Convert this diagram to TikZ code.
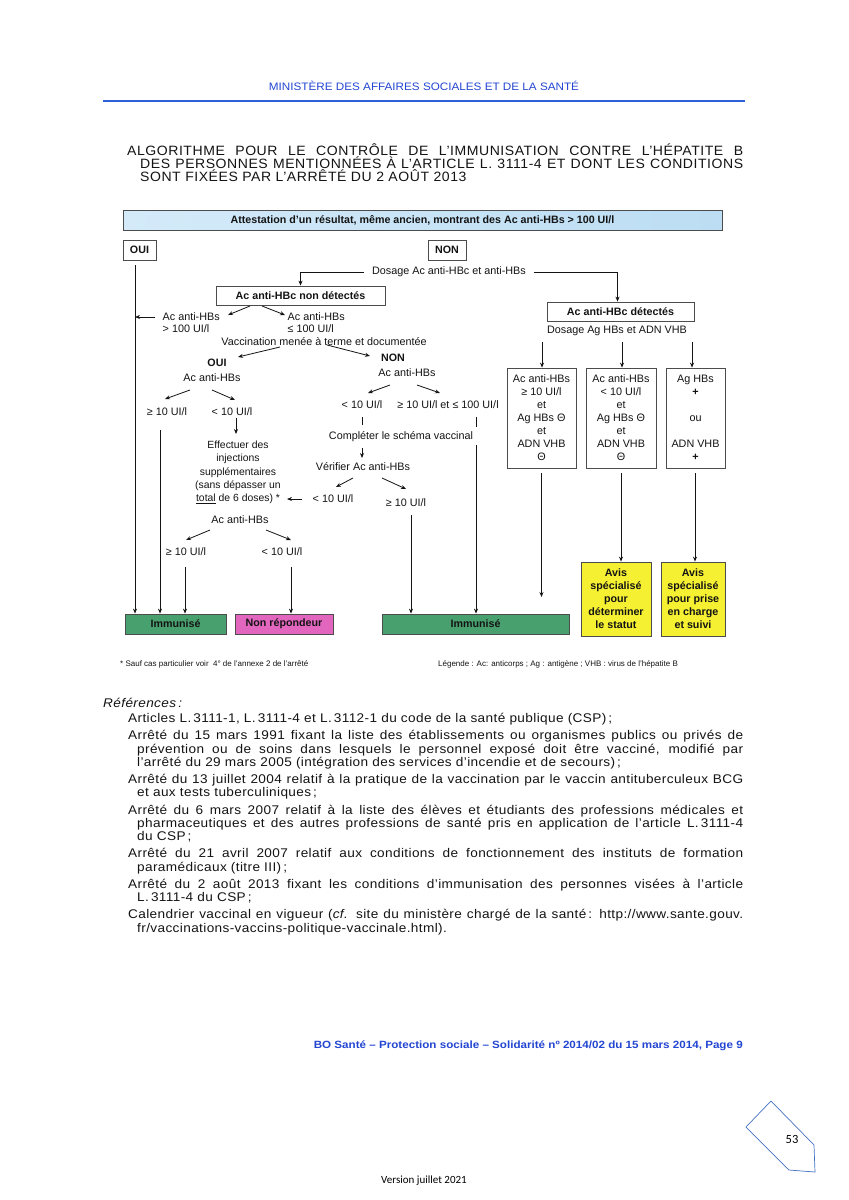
\documentclass[tikz,border=0pt]{standalone}
\usepackage{fontspec}
\usepackage{graphicx}
\setmainfont{Liberation Sans}
\newfontfamily\dfont{Liberation Sans}
\newfontfamily\reffont[FakeStretch=1.08,LetterSpace=3]{Liberation Sans}
\newfontfamily\titlefont[FakeStretch=1.04,LetterSpace=4]{Liberation Sans}
\newfontfamily\calfont{Carlito}
\usetikzlibrary{arrows.meta}
\definecolor{hblue}{RGB}{35,70,210}
\definecolor{lblue}{RGB}{45,95,215}
\definecolor{grn}{RGB}{72,160,110}
\definecolor{pnk}{RGB}{226,102,190}
\definecolor{yel}{RGB}{245,240,50}
\definecolor{topL}{RGB}{212,234,249}
\definecolor{topR}{RGB}{188,221,243}
\definecolor{pblue}{RGB}{68,114,196}
\definecolor{ink}{RGB}{20,20,20}
\newcommand\jl[2]{\makebox[#1][s]{#2}}
\tikzset{
 dtxt/.style={inner sep=0pt, text=ink, font=\dfont\fontsize{10.8}{13}\selectfont, align=center},
 bx/.style={draw=black!70, line width=0.8pt, fill=white, inner sep=0pt, text=ink, font=\dfont\fontsize{10.8}{13}\selectfont, align=center},
 bfont/.style={font=\dfont\bfseries\fontsize{10.7}{13}\selectfont},
 arr/.style={draw=ink, line width=0.8pt, -{Stealth[length=5pt,width=4pt]}},
 ln/.style={draw=ink, line width=0.8pt},
 rt/.style={anchor=base west, inner sep=0pt, text=ink, font=\reffont\fontsize{12.6}{13.3}\selectfont},
 ttl/.style={anchor=base west, inner sep=0pt, text=ink, font=\titlefont\fontsize{13.5}{13.5}\selectfont},
 small/.style={inner sep=0pt, text=ink, font=\dfont\fontsize{8}{9}\selectfont, anchor=west},
}
\begin{document}
\begin{tikzpicture}[x=1pt,y=-1pt]
\fill[white] (0,0) rectangle (849,1200);
\useasboundingbox (0,0) rectangle (849,1200);

% ---------- header ----------
\node[inner sep=0pt, text=hblue, font=\dfont\fontsize{10.8}{12}\selectfont] (hdr) at (424,86)
  {\resizebox{310pt}{\height}{MINISTÈRE DES AFFAIRES SOCIALES ET DE LA SANTÉ}};
\coordinate (hl1) at (103,101);
\coordinate (hl2) at (745,101);
\draw[lblue, line width=1.2pt] (hl1) -- (hl2);

% ---------- title ----------
\node[ttl] (t1) at (127,155) {\jl{616pt}{ALGORITHME POUR LE CONTRÔLE DE L’IMMUNISATION CONTRE L’HÉPATITE B}};
\node[ttl] (t2) at (140,168) {\jl{603pt}{DES PERSONNES MENTIONNÉES À L’ARTICLE L. 3111-4 ET DONT LES CONDITIONS}};
\node[ttl] (t3) at (140,181) {SONT FIXÉES PAR L’ARRÊTÉ DU 2 AOÛT 2013};

% ---------- diagram boxes ----------
\node[bx, bfont, minimum width=599pt, minimum height=20pt, left color=topL, right color=topR] (top) at (422.5,220)
  {Attestation d’un résultat, même ancien, montrant des Ac anti-HBs > 100 UI/l};
\node[bx, bfont, minimum width=33pt, minimum height=20pt] (oui) at (139.5,250) {OUI};
\node[bx, bfont, minimum width=38pt, minimum height=20pt] (non) at (447,250) {NON};
\node[dtxt, inner xsep=8pt] (dos) at (449,272) {Dosage Ac anti-HBc et anti-HBs};
\node[bx, bfont, minimum width=169pt, minimum height=19pt] (nondet) at (300.5,295.5) {Ac anti-HBc non détectés};
\node[bx, bfont, minimum width=147pt, minimum height=19pt] (det) at (620.5,311.5) {Ac anti-HBc détectés};
\node[dtxt] (dosag) at (617,331) {Dosage Ag HBs et ADN VHB};

\node[bx, minimum width=69pt, minimum height=100pt] (b1) at (541.5,418)
  {Ac anti-HBs\\≥ 10 UI/l\\et\\Ag HBs Θ\\et\\ADN VHB\\Θ};
\node[bx, minimum width=70pt, minimum height=100pt] (b2) at (621,418)
  {Ac anti-HBs\\< 10 UI/l\\et\\Ag HBs Θ\\et\\ADN VHB\\Θ};
\node[bx, minimum width=59pt, minimum height=100pt] (b3) at (695.5,418)
  {Ag HBs\\\textbf{+}\\\mbox{}\\ou\\\mbox{}\\ADN VHB\\\textbf{+}};

\node[bx, bfont, fill=yel, minimum width=70pt, minimum height=74pt] (y1) at (616,599)
  {Avis\\spécialisé\\pour\\déterminer\\le statut};
\node[bx, bfont, fill=yel, minimum width=64pt, minimum height=74pt] (y2) at (693,599)
  {Avis\\spécialisé\\pour prise\\en charge\\et suivi};

\node[bx, bfont, fill=grn, minimum width=101pt, minimum height=20pt] (imm1) at (175.5,624) {Immunisé};
\node[bx, bfont, fill=pnk, minimum width=98pt, minimum height=20pt] (nonrep) at (284,624) {Non répondeur};
\node[bx, bfont, fill=grn, minimum width=187pt, minimum height=20pt] (imm2) at (475.5,624) {Immunisé};

% ---------- diagram texts ----------
\node[dtxt, align=left, anchor=west, font=\dfont\fontsize{10.8}{11.5}\selectfont] (hbsL) at (162.5,322.5) {Ac anti-HBs\\> 100 UI/l};
\node[dtxt, align=left, anchor=west, font=\dfont\fontsize{10.8}{11.5}\selectfont] (hbsR) at (287.5,322.5) {Ac anti-HBs\\≤ 100 UI/l};
\node[dtxt] (vacc) at (324,342) {Vaccination menée à terme et documentée};
\node[dtxt, bfont] (oui2) at (217,363) {OUI};
\node[dtxt, bfont] (non2) at (393,358) {NON};
\node[dtxt] (hbsA) at (212,378) {Ac anti-HBs};
\node[dtxt] (hbsB) at (407,373) {Ac anti-HBs};
\node[dtxt] (ge10a) at (167,412) {≥ 10 UI/l};
\node[dtxt] (lt10a) at (232,412) {< 10 UI/l};
\node[dtxt] (lt10b) at (362,405) {< 10 UI/l};
\node[dtxt] (ge10b) at (448,405) {≥ 10 UI/l et ≤ 100 UI/l};
\node[dtxt] (compl) at (401,437) {Compléter le schéma vaccinal};
\node[dtxt] (verif) at (363,467) {Vérifier Ac anti-HBs};
\node[dtxt] (lt10c) at (333,499) {< 10 UI/l};
\node[dtxt] (ge10c) at (406,503) {≥ 10 UI/l};
\node[dtxt, font=\dfont\fontsize{10.4}{13.25}\selectfont] (inj) at (238,472.5)
  {Effectuer des\\injections\\supplémentaires\\(sans dépasser un\\\underline{total} de 6 doses) *};
\node[dtxt] (hbsC) at (240,520) {Ac anti-HBs};
\node[dtxt] (ge10d) at (186,552) {≥ 10 UI/l};
\node[dtxt] (lt10d) at (282,552) {< 10 UI/l};

% ---------- connectors ----------
\draw[arr] (dos.west) -| (nondet.north);
\draw[arr] (dos.east) -| ([xshift=-3pt]det.north);

\coordinate (o1) at (135,265);
\draw[arr] (o1) -- (o1 |- imm1.north);
\coordinate (g1) at (160,430);
\draw[arr] (g1) -- (g1 |- imm1.north);
\coordinate (g2) at (185,567);
\draw[arr] (g2) -- (g2 |- imm1.north);
\coordinate (l2) at (291,567);
\draw[arr] (l2) -- (l2 |- nonrep.north);
\coordinate (g3) at (411,515);
\draw[arr] (g3) -- (g3 |- imm2.north);
\coordinate (r1a) at (476,417);
\coordinate (r1b) at (476,427);
\draw[ln] (r1a) -- (r1b);
\coordinate (r2a) at (476,445);
\draw[arr] (r2a) -- (r2a |- imm2.north);
\coordinate (k1) at (362,417);
\coordinate (k2) at (362,425);
\draw[ln] (k1) -- (k2);
\coordinate (k3) at (362,448);
\coordinate (k4) at (362,458);
\draw[arr] (k3) -- (k4);
\coordinate (m1) at (236,418);
\coordinate (m2) at (236,434);
\draw[arr] (m1) -- (m2);

% diagonal arrows
\coordinate (a1) at (250,306); \coordinate (a2) at (228,315);
\draw[arr] (a1) -- (a2);
\coordinate (a3) at (262,306); \coordinate (a4) at (285,315);
\draw[arr] (a3) -- (a4);
\coordinate (a5) at (155,317);
\draw[arr] (a5) -- (o1 |- a5);
\coordinate (a7) at (280,347); \coordinate (a8) at (238,357);
\draw[arr] (a7) -- (a8);
\coordinate (a9) at (327,345); \coordinate (a10) at (370,356);
\draw[arr] (a9) -- (a10);
\coordinate (c1) at (190,390); \coordinate (c2) at (165,399);
\draw[arr] (c1) -- (c2);
\coordinate (c3) at (212,390); \coordinate (c4) at (235,400);
\draw[arr] (c3) -- (c4);
\coordinate (n1) at (390,385); \coordinate (n2) at (368,393);
\draw[arr] (n1) -- (n2);
\coordinate (n3) at (417,385); \coordinate (n4) at (440,393);
\draw[arr] (n3) -- (n4);
\coordinate (v1) at (353,478); \coordinate (v2) at (336,487);
\draw[arr] (v1) -- (v2);
\coordinate (v3) at (382,478); \coordinate (v4) at (406,489);
\draw[arr] (v3) -- (v4);
\coordinate (h1) at (302,499); \coordinate (h2) at (287,499);
\draw[arr] (h1) -- (h2);
\coordinate (s1) at (210,530); \coordinate (s2) at (186,540);
\draw[arr] (s1) -- (s2);
\coordinate (s3) at (266,530); \coordinate (s4) at (291,540);
\draw[arr] (s3) -- (s4);

% right column
\coordinate (d1) at (542,342);
\draw[arr] (d1) -- (d1 |- b1.north);
\coordinate (d2) at (622,342);
\draw[arr] (d2) -- (d2 |- b2.north);
\coordinate (d3) at (692,342);
\draw[arr] (d3) -- (d3 |- b3.north);
\coordinate (e1) at (541.5,473); \coordinate (e1b) at (541.5,597);
\draw[arr] (e1) -- (e1b);
\coordinate (e2) at (621,473);
\draw[arr] (e2) -- (e2 |- y1.north);
\coordinate (e3) at (695,473);
\draw[arr] (e3) -- (e3 |- y2.north);

% footnotes
\node[small] (fn) at (120,664) {* Sauf cas particulier voir\ \ 4° de l’annexe 2 de l’arrêté};
\node[small] (leg) at (438,664) {Légende : Ac: anticorps ; Ag : antigène ; VHB : virus de l’hépatite B};

% ---------- references ----------
\node[rt] (refh) at (103,707) {\itshape Références\,:};
\node[rt] (p1) at (128,722.5) {Articles L.\,3111-1, L.\,3111-4 et L.\,3112-1 du code de la santé publique (CSP)\,;};
\node[rt] (p2a) at (128,739.7) {\jl{615pt}{Arrêté du 15 mars 1991 fixant la liste des établissements ou organismes publics ou privés de}};
\node[rt] (p2b) at (137,753) {\jl{606pt}{prévention ou de soins dans lesquels le personnel exposé doit être vacciné, modifié par}};
\node[rt] (p2c) at (137,766.3) {l’arrêté du 29 mars 2005 (intégration des services d’incendie et de secours)\,;};
\node[rt] (p3a) at (128,783.5) {\jl{615pt}{Arrêté du 13 juillet 2004 relatif à la pratique de la vaccination par le vaccin antituberculeux BCG}};
\node[rt] (p3b) at (137,796.8) {et aux tests tuberculiniques\,;};
\node[rt] (p4a) at (128,814) {\jl{615pt}{Arrêté du 6 mars 2007 relatif à la liste des élèves et étudiants des professions médicales et}};
\node[rt] (p4b) at (137,827.3) {\jl{606pt}{pharmaceutiques et des autres professions de santé pris en application de l’article L.\,3111-4}};
\node[rt] (p4c) at (137,840.6) {du CSP\,;};
\node[rt] (p5a) at (128,857.8) {\jl{615pt}{Arrêté du 21 avril 2007 relatif aux conditions de fonctionnement des instituts de formation}};
\node[rt] (p5b) at (137,871.1) {paramédicaux (titre III)\,;};
\node[rt] (p6a) at (128,888.3) {\jl{615pt}{Arrêté du 2 août 2013 fixant les conditions d’immunisation des personnes visées à l’article}};
\node[rt] (p6b) at (137,901.6) {L.\,3111-4 du CSP\,;};
\node[rt] (p7a) at (128,918.8) {\jl{615pt}{Calendrier vaccinal en vigueur (\textit{cf.} site du ministère chargé de la santé\,: http://www.sante.gouv.}};
\node[rt] (p7b) at (137,932.1) {fr/vaccinations-vaccins-politique-vaccinale.html).};

% ---------- footer ----------
\node[inner sep=0pt, anchor=east, text=hblue, font=\dfont\bfseries\fontsize{10.5}{12}\selectfont] (bo) at (743,1046)
  {\resizebox{429pt}{\height}{BO Santé – Protection sociale – Solidarité nº 2014/02 du 15 mars 2014, Page 9}};
\coordinate (q1) at (771,1101);
\coordinate (q2) at (746,1127);
\coordinate (q3) at (789,1170);
\coordinate (q4) at (815,1172);
\coordinate (q5) at (814,1145);
\draw[pblue, line width=0.7pt] (q1) -- (q2) -- (q3) -- (q4) -- (q5) -- cycle;
\node[inner sep=0pt, font=\calfont\fontsize{12.5}{14}\selectfont, text=black] (pg) at (792,1139) {53};
\node[inner sep=0pt, font=\calfont\fontsize{11}{13}\selectfont, text=black] (ver) at (424,1181) {Version juillet 2021};
\end{tikzpicture}
\end{document}
